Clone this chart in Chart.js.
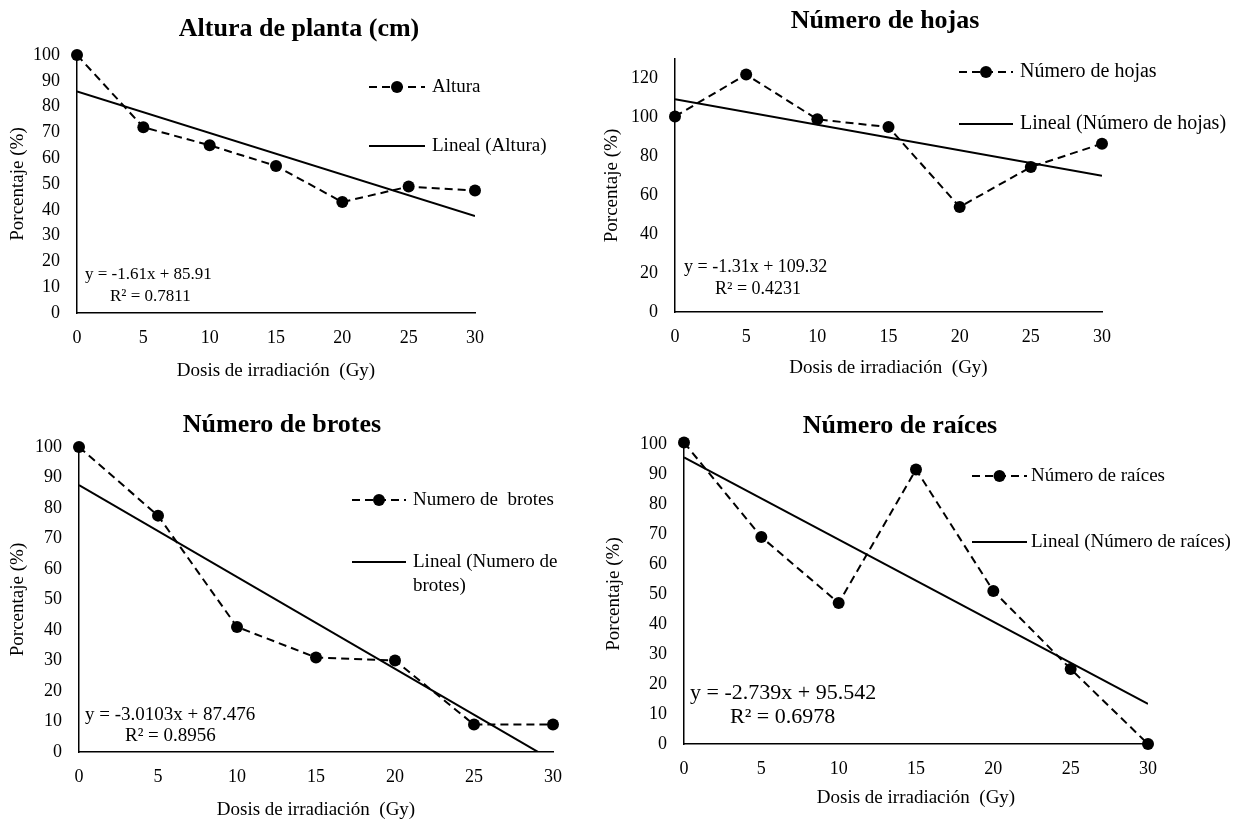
<!DOCTYPE html>
<html>
<head>
<meta charset="utf-8">
<script src="https://cdn.jsdelivr.net/npm/chart.js@4.4.1/dist/chart.umd.min.js"></script>
<style>
  body { margin: 0; background: #fff; }
  canvas { position: absolute; }
</style>
</head>
<body>
<canvas id="c1" width="600" height="400" style="left:0;top:0"></canvas>
<canvas id="c2" width="636" height="400" style="left:600px;top:0"></canvas>
<canvas id="c3" width="600" height="419" style="left:0;top:400px"></canvas>
<canvas id="c4" width="636" height="419" style="left:600px;top:400px"></canvas>
<script>
// irradiation doses (Gy)
const doses = [0, 5, 10, 15, 20, 25, 30];

// percentages
const alturaPct = [100, 72, 65, 57, 43, 49, 47.5];
const hojasPct = [100.5, 122, 99, 95, 54, 74.5, 86.5];
const brotesPct = [100, 77.5, 41, 31, 30, 9, 9];
const raicesPct = [100.5, 69, 47, 91.5, 51, 25, 0];

// linear trend ends at x = 0 and x = 30 (from the printed equations)
const trendDoses = [0, 30];
const alturaTrend = [85.91, 37.61];
const hojasTrend = [109.32, 70.02];
const brotesTrend = [87.48, -2.83];
const raicesTrend = [95.54, 13.37];

const ticks100 = [0, 10, 20, 30, 40, 50, 60, 70, 80, 90, 100];
const ticks120 = [0, 20, 40, 60, 80, 100, 120];

const FONT = '"Liberation Serif", "Times New Roman", serif';

const decor = {
  id: 'decor',
  afterDraw(chart, args, o) {
    const ctx = chart.ctx;
    ctx.save();
    ctx.fillStyle = '#000';
    ctx.strokeStyle = '#000';
    ctx.textBaseline = 'middle';

    ctx.font = 'bold 26px ' + FONT;
    ctx.textAlign = 'center';
    ctx.fillText(o.title, o.titleX, o.titleY);

    ctx.font = o.legSize + 'px ' + FONT;
    ctx.textAlign = 'left';
    chart.data.datasets.forEach((d, i) => {
      const y = o.legendY[i];
      ctx.lineWidth = d.borderWidth;
      ctx.setLineDash(d.borderDash || []);
      ctx.beginPath();
      ctx.moveTo(o.sampleX, y);
      ctx.lineTo(o.sampleX + o.sampleW, y);
      ctx.stroke();
      ctx.setLineDash([]);
      if (d.pointRadius) {
        ctx.beginPath();
        ctx.arc(o.sampleX + o.sampleW / 2, y, d.pointRadius, 0, Math.PI * 2);
        ctx.fill();
      }
      o.legendLines[i].forEach((t, k) => ctx.fillText(t, o.textX, y + k * 24));
    });

    ctx.font = o.eqSize + 'px ' + FONT;
    ctx.fillText(o.eq[0], o.eqX[0], o.eqY[0]);
    ctx.fillText(o.eq[1], o.eqX[1], o.eqY[1]);
    ctx.restore();
  }
};

function makeChart(id, c) {
  const canvas = document.getElementById(id);
  const W = canvas.width, H = canvas.height;
  const a = c.area;
  const tickFont = { family: FONT, size: 18 };
  const titleFont = { family: FONT, size: 19 };
  return new Chart(canvas, {
    type: 'line',
    data: {
      datasets: [
        {
          label: c.label,
          data: doses.map((x, i) => ({ x: x, y: c.values[i] })),
          borderColor: '#000',
          backgroundColor: '#000',
          borderWidth: 2,
          borderDash: [8, 5],
          pointRadius: 6,
          pointBorderWidth: 0,
          tension: 0,
          clip: false
        },
        {
          label: c.trendLabel,
          data: trendDoses.map((x, i) => ({ x: x, y: c.trend[i] })),
          borderColor: '#000',
          borderWidth: 2,
          pointRadius: 0,
          tension: 0
        }
      ]
    },
    options: {
      responsive: false,
      animation: false,
      events: [],
      layout: { padding: { top: a.top, right: W - a.right, left: 0, bottom: 0 } },
      plugins: {
        legend: { display: false },
        tooltip: { enabled: false },
        decor: c.decor
      },
      scales: {
        x: {
          type: 'linear',
          min: 0,
          max: 30,
          afterBuildTicks: s => { s.ticks = doses.map(v => ({ value: v })); },
          afterFit: s => { s.height = H - a.bottom; },
          grid: { display: false, drawTicks: false },
          border: { display: true, color: '#000', width: 1.5 },
          ticks: { color: '#000', font: tickFont, padding: 14, maxRotation: 0 },
          title: {
            display: true,
            text: 'Dosis de irradiación  (Gy)',
            color: '#000',
            font: titleFont,
            padding: { top: 0, bottom: c.xTitlePad }
          }
        },
        y: {
          min: 0,
          max: c.yMax,
          afterBuildTicks: s => { s.ticks = c.yTicks.map(v => ({ value: v })); },
          afterFit: s => { s.width = a.left; },
          grid: { display: false, drawTicks: false },
          border: { display: true, color: '#000', width: 1.5 },
          ticks: { color: '#000', font: tickFont, padding: 17 },
          title: {
            display: true,
            text: 'Porcentaje (%)',
            color: '#000',
            font: titleFont,
            padding: { top: c.yTitlePad, bottom: 0 }
          }
        }
      }
    },
    plugins: [decor]
  });
}

makeChart('c1', {
  label: 'Altura',
  trendLabel: 'Lineal (Altura)',
  values: alturaPct,
  trend: alturaTrend,
  yMax: 100,
  yTicks: ticks100,
  area: { left: 77, top: 55, right: 475, bottom: 313 },
  xTitlePad: 18,
  yTitlePad: 7,
  decor: {
    title: 'Altura de planta (cm)', titleX: 299, titleY: 29,
    sampleX: 369, sampleW: 56, textX: 432, legendY: [87, 146], legSize: 19,
    legendLines: [['Altura'], ['Lineal (Altura)']],
    eq: ['y = -1.61x + 85.91', 'R\u00b2 = 0.7811'], eqX: [85, 110], eqY: [275, 297], eqSize: 17
  }
});

makeChart('c2', {
  label: 'Número de hojas',
  trendLabel: 'Lineal (Número de hojas)',
  values: hojasPct,
  trend: hojasTrend,
  yMax: 130,
  yTicks: ticks120,
  area: { left: 75, top: 59, right: 502, bottom: 312 },
  xTitlePad: 21,
  yTitlePad: 1,
  decor: {
    title: 'Número de hojas', titleX: 285, titleY: 21,
    sampleX: 359, sampleW: 54, textX: 420, legendY: [72, 124], legSize: 20,
    legendLines: [['Número de hojas'], ['Lineal (Número de hojas)']],
    eq: ['y = -1.31x + 109.32', 'R\u00b2 = 0.4231'], eqX: [84, 115], eqY: [267, 289], eqSize: 18
  }
});

makeChart('c3', {
  label: 'Numero de  brotes',
  trendLabel: 'Lineal (Numero de brotes)',
  values: brotesPct,
  trend: brotesTrend,
  yMax: 100,
  yTicks: ticks100,
  area: { left: 79, top: 47, right: 553, bottom: 352 },
  xTitlePad: -2,
  yTitlePad: 7,
  decor: {
    title: 'Número de brotes', titleX: 282, titleY: 25,
    sampleX: 352, sampleW: 54, textX: 413, legendY: [100, 162], legSize: 19,
    legendLines: [['Numero de  brotes'], ['Lineal (Numero de', 'brotes)']],
    eq: ['y = -3.0103x + 87.476', 'R\u00b2 = 0.8956'], eqX: [85, 125], eqY: [315, 336], eqSize: 19
  }
});

makeChart('c4', {
  label: 'Número de raíces',
  trendLabel: 'Lineal (Número de raíces)',
  values: raicesPct,
  trend: raicesTrend,
  yMax: 100,
  yTicks: ticks100,
  area: { left: 84, top: 44, right: 548, bottom: 344 },
  xTitlePad: 10,
  yTitlePad: 3,
  decor: {
    title: 'Número de raíces', titleX: 300, titleY: 26,
    sampleX: 372, sampleW: 55, textX: 431, legendY: [76, 142], legSize: 19,
    legendLines: [['Número de raíces'], ['Lineal (Número de raíces)']],
    eq: ['y = -2.739x + 95.542', 'R\u00b2 = 0.6978'], eqX: [90, 130], eqY: [293, 317], eqSize: 22
  }
});
</script>
</body>
</html>
